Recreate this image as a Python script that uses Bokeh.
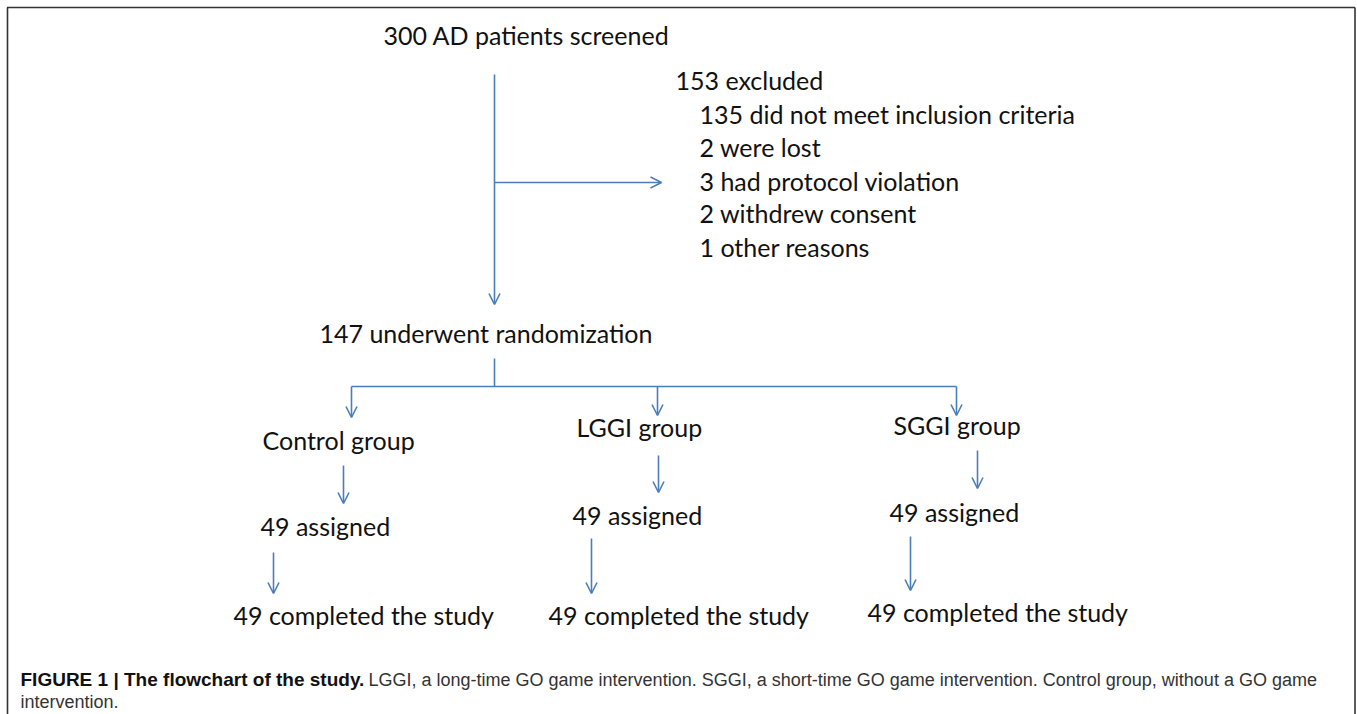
from bokeh.plotting import figure
from bokeh.models import Range1d, ColumnDataSource, Arrow, OpenHead
from bokeh.embed import file_html
from bokeh.resources import INLINE
from bokeh.core.properties import value

# ---------------- data ----------------
screened = 300
excluded = 153
exclusion_counts = [135, 2, 3, 2, 1]
exclusion_reasons = ["did not meet inclusion criteria", "were lost",
                     "had protocol violation", "withdrew consent", "other reasons"]
randomized = 147
groups = ["Control group", "LGGI group", "SGGI group"]
assigned = [49, 49, 49]
completed = [49, 49, 49]
caption_bold = "FIGURE 1 | The flowchart of the study."
caption_rest = ("LGGI, a long-time GO game intervention. SGGI, a short-time GO game "
                "intervention. Control group, without a GO game")
caption_line2 = "intervention."

# ---------------- layout (pixel-like positions) ----------------
W, H = 1357, 714
BLUE = "#4a7ebb"
FONT = "Lato"
FS = "25px"
DY = -2  # vertical text adjustment

p = figure(width=W, height=H, output_backend="svg", toolbar_location=None,
           x_range=Range1d(0, W), y_range=Range1d(H, 0),
           min_border=0, outline_line_color=None)
p.axis.visible = False
p.grid.visible = False
p.background_fill_color = "white"

# frame border
p.segment(x0=[6.5, 7, 1354.5], y0=[7, 7, 7], x1=[1354.5, 7, 1354.5], y1=[7, 720, 720],
          line_color="#333333", line_width=1.6)

# texts
tx, ty, tl = [], [], []
tx.append(383); ty.append(36); tl.append(f"{screened} AD patients screened")
tx.append(675); ty.append(81); tl.append(f"{excluded} excluded")
ex_y = [115, 148, 182, 214, 248]
for c, r, yy in zip(exclusion_counts, exclusion_reasons, ex_y):
    tx.append(699); ty.append(yy); tl.append(f"{c} {r}")
tx.append(319); ty.append(334); tl.append(f"{randomized} underwent randomization")
g_x = [262, 576, 893]; g_y = [441, 428, 426]
a_x = [260, 572, 889]; a_y = [527, 516, 513]
c_x = [233, 548, 867]; c_y = [616, 616, 613]
for i in range(3):
    tx.append(g_x[i]); ty.append(g_y[i]); tl.append(groups[i])
    tx.append(a_x[i]); ty.append(a_y[i]); tl.append(f"{assigned[i]} assigned")
    tx.append(c_x[i]); ty.append(c_y[i]); tl.append(f"{completed[i]} completed the study")
ty = [v + DY for v in ty]

p.text(x=tx, y=ty, text=tl, text_font=value(FONT), text_font_size=FS,
       text_color="#111111", text_align="left", text_baseline="middle")

# plain connector lines
p.segment(x0=[494, 351], y0=[358, 386], x1=[494, 956], y1=[386, 386],
          line_color=BLUE, line_width=1.6)

# arrows
arr = ColumnDataSource(dict(
    x0=[494, 494, 351, 657, 956, 343, 658, 977, 273, 591, 910],
    y0=[74, 182, 386, 386, 386, 465, 455, 450, 552, 538, 536],
    x1=[494, 661, 351, 657, 956, 343, 658, 977, 273, 591, 910],
    y1=[304, 182, 417, 415, 415, 503, 492, 488, 593, 593, 590],
))
p.add_layout(Arrow(end=OpenHead(size=11, line_color=BLUE, line_width=1.6),
                   x_start="x0", y_start="y0", x_end="x1", y_end="y1",
                   line_color=BLUE, line_width=1.6, source=arr))

# caption
p.text(x=[20], y=[679], text=[caption_bold], text_font=value("Liberation Sans"),
       text_font_size="19px", text_font_style="bold", text_color="#111111",
       text_align="left", text_baseline="middle")
p.text(x=[368, 20], y=[679, 701], text=[caption_rest, caption_line2],
       text_font=value("Liberation Sans"), text_font_size="18px",
       text_color="#333333", text_align="left", text_baseline="middle")

open("out.html", "w").write(file_html(p, INLINE))
